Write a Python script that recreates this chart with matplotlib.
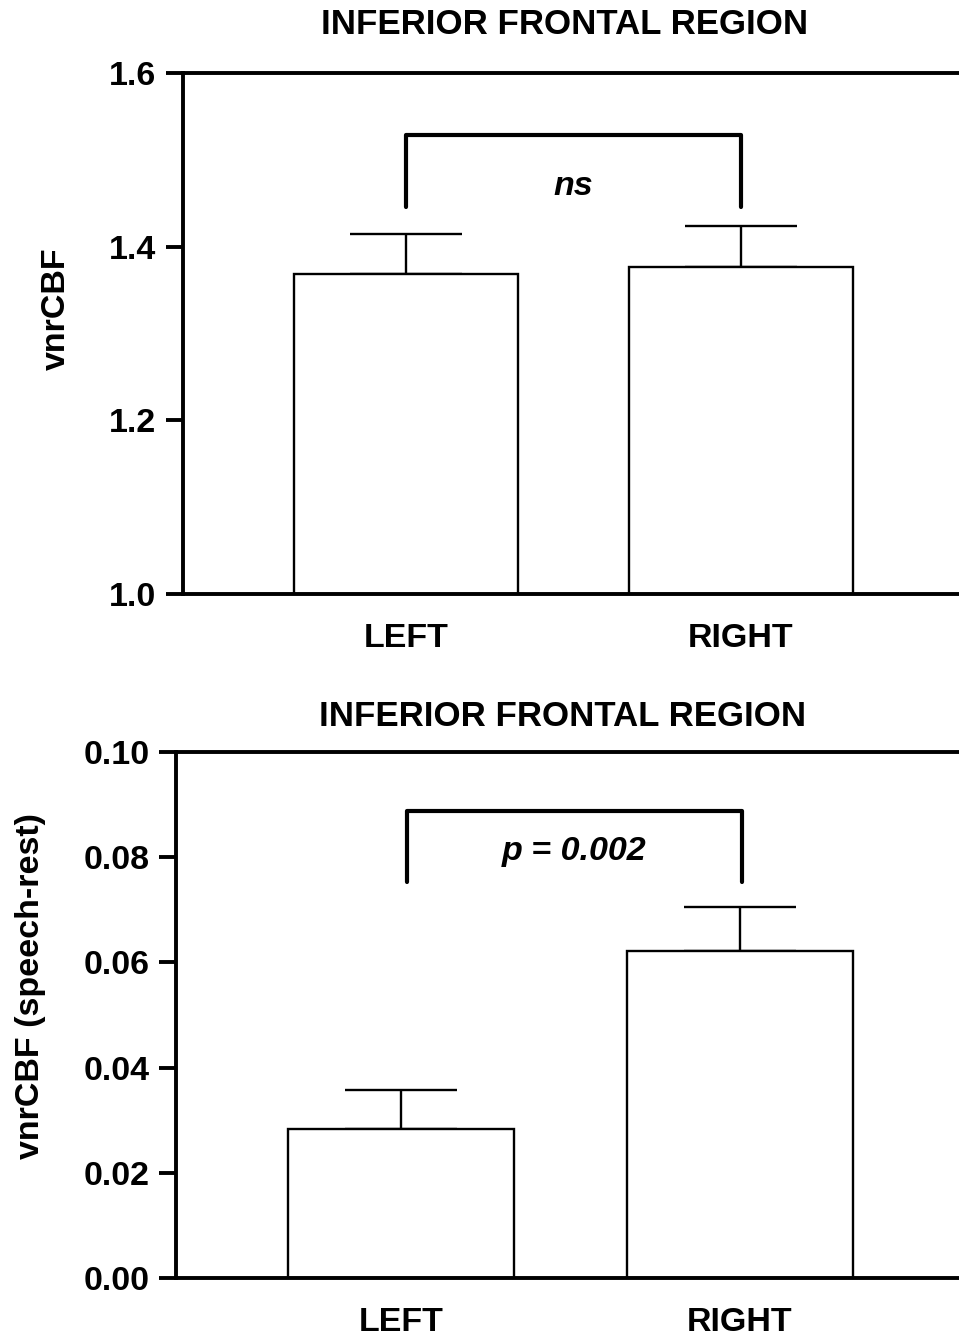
import matplotlib
matplotlib.use("Agg")
import matplotlib.pyplot as plt

plt.rcParams['font.family'] = ['Liberation Sans', 'DejaVu Sans']
plt.rcParams['font.weight'] = 'bold'

categories = ["LEFT", "RIGHT"]
title = "INFERIOR FRONTAL REGION"

# top panel: vnrCBF
top_means = [1.369, 1.377]
top_err = [0.046, 0.047]
top_yticks = [1.0, 1.2, 1.4, 1.6]
top_ticklabels = ["1.0", "1.2", "1.4", "1.6"]
top_sig = "ns"

# bottom panel: vnrCBF (speech-rest)
bot_means = [0.0284, 0.0621]
bot_err = [0.0074, 0.0084]
bot_yticks = [0.00, 0.02, 0.04, 0.06, 0.08, 0.10]
bot_ticklabels = ["0.00", "0.02", "0.04", "0.06", "0.08", "0.10"]
bot_sig = "p = 0.002"

W, H = 959, 1337
fig = plt.figure(figsize=(W / 100, H / 100), dpi=100)

FS = 24.5
TFS = 25.1


def panel(rect, means, errs, ylim, yticks, yticklabels, ylabel, xlim,
          label_coords, bracket, sig):
    ax = fig.add_axes(rect)
    x = list(range(len(categories)))
    ax.bar(x, means, width=0.667, color='white', edgecolor='black',
           linewidth=1.7, zorder=2)
    ax.errorbar(x, means, yerr=[[0] * len(errs), errs], fmt='none',
                ecolor='black', elinewidth=1.7, capsize=40.5, capthick=1.7,
                zorder=1)
    ax.set_xlim(*xlim)
    ax.set_ylim(*ylim)
    ax.set_yticks(yticks)
    ax.set_yticklabels(yticklabels, fontsize=FS, fontweight='bold')
    ax.set_xticks(x)
    ax.set_xticklabels(categories, fontsize=FS, fontweight='bold')
    ax.tick_params(axis='x', length=0, pad=21)
    ax.tick_params(axis='y', length=12, width=2.8, pad=7, direction='out')
    for s in ['left', 'bottom', 'top']:
        ax.spines[s].set_linewidth(2.8)
    ax.spines['right'].set_visible(False)
    ax.set_ylabel(ylabel, fontsize=FS, fontweight='bold')
    ax.yaxis.set_label_coords(*label_coords)
    # significance bracket
    x0, x1, ylow, yhigh, ytext = bracket
    ax.plot([x0, x0, x1, x1], [ylow, yhigh, yhigh, ylow], color='black',
            linewidth=3.0, solid_joinstyle='round', solid_capstyle='round',
            clip_on=False)
    ax.text((x0 + x1) / 2, ytext, sig, ha='center', va='center',
            fontsize=FS, fontweight='bold', style='italic')
    return ax


# top panel
panel([183 / W, 1 - 594 / H, 1 - 183 / W, (594 - 73) / H],
      top_means, top_err, (1.0, 1.6), top_yticks, top_ticklabels, "vnrCBF",
      (-0.666, 1.651), (-0.143, 0.547),
      (0.0, 1.0, 1.446, 1.529, 1.469), top_sig)
fig.text(565 / W, 1 - 25 / H, title, ha='center', va='center',
         fontsize=TFS, fontweight='bold')

# bottom panel
panel([176 / W, 1 - 1278 / H, 1 - 176 / W, (1278 - 752) / H],
      bot_means, bot_err, (0.0, 0.10), bot_yticks, bot_ticklabels,
      "vnrCBF (speech-rest)", (-0.664, 1.646), (-0.166, 0.555),
      (0.017, 1.005, 0.0753, 0.0888, 0.081), bot_sig)
fig.text(563 / W, 1 - 716 / H, title, ha='center', va='center',
         fontsize=TFS, fontweight='bold')

fig.savefig("out.png", dpi=100)
